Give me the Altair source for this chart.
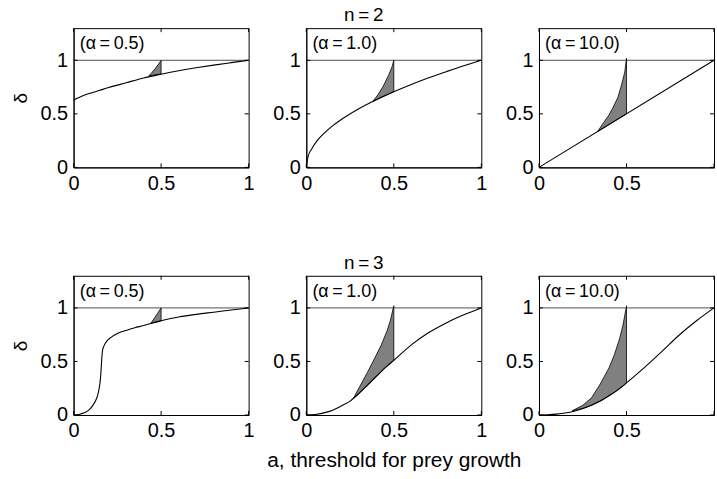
import altair as alt
import pandas as pd

FONT = "Liberation Sans"
W, H = 176, 140

ROW_TITLES = ["n\u2009=\u20092", "n\u2009=\u20093"]
ALPHA_LABELS = ["(\u03b1\u2009=\u20090.5)", "(\u03b1\u2009=\u20091.0)", "(\u03b1\u2009=\u200910.0)"]
X_TITLE = "a, threshold for prey growth"
Y_TITLE = "\u03b4"
X_TICKS = [0, 0.5, 1]
Y_TICKS = [0, 0.5, 1]

# n = 2, alpha = 0.5
A_21 = [0, 0.02, 0.05, 0.1, 0.15, 0.2, 0.3, 0.4, 0.5, 0.6, 0.7, 0.8, 0.9, 1.0]
D_21 = [0.625, 0.645, 0.667, 0.695, 0.72, 0.745, 0.79, 0.835, 0.87, 0.902, 0.93, 0.955, 0.978, 1.0]
SA_21 = [0.43, 0.45, 0.47, 0.49, 0.5]
SLO_21 = [0.855, 0.86, 0.865, 0.869, 0.87]
SHI_21 = [0.855, 0.89, 0.93, 0.975, 1.0]

# n = 2, alpha = 1.0
A_22 = [0, 0.01, 0.03, 0.06, 0.1, 0.15, 0.2, 0.3, 0.4, 0.5, 0.6, 0.7, 0.8, 0.9, 1.0]
D_22 = [0, 0.1, 0.17, 0.245, 0.316, 0.387, 0.447, 0.548, 0.632, 0.707, 0.775, 0.837, 0.894, 0.949, 1.0]
SA_22 = [0.38, 0.41, 0.44, 0.47, 0.49, 0.5]
SLO_22 = [0.616, 0.64, 0.663, 0.686, 0.7, 0.707]
SHI_22 = [0.616, 0.68, 0.76, 0.86, 0.94, 1.0]

# n = 2, alpha = 10.0
A_23 = [0, 1.0]
D_23 = [0, 1.0]
SA_23 = [0.335, 0.37, 0.4, 0.42, 0.45, 0.47, 0.49, 0.5]
SLO_23 = [0.335, 0.37, 0.4, 0.42, 0.45, 0.47, 0.49, 0.5]
SHI_23 = [0.335, 0.42, 0.49, 0.55, 0.65, 0.76, 0.89, 1.02]

# n = 3, alpha = 0.5
A_31 = [0, 0.03, 0.06, 0.09, 0.11, 0.13, 0.14, 0.15, 0.155, 0.16, 0.165, 0.175, 0.19, 0.21,
        0.25, 0.3, 0.35, 0.4, 0.45, 0.5, 0.6, 0.7, 0.8, 0.9, 1.0]
D_31 = [0, 0.005, 0.02, 0.05, 0.09, 0.15, 0.2, 0.29, 0.37, 0.5, 0.6, 0.65, 0.69, 0.72,
        0.76, 0.79, 0.815, 0.835, 0.86, 0.88, 0.915, 0.94, 0.96, 0.98, 1.0]
SA_31 = [0.44, 0.46, 0.48, 0.5]
SLO_31 = [0.855, 0.862, 0.87, 0.88]
SHI_31 = [0.855, 0.9, 0.95, 1.0]

# n = 3, alpha = 1.0
A_32 = [0, 0.05, 0.1, 0.15, 0.2, 0.25, 0.3, 0.35, 0.4, 0.45, 0.5, 0.6, 0.7, 0.8, 0.9, 1.0]
D_32 = [0, 0.005, 0.02, 0.045, 0.085, 0.13, 0.2, 0.28, 0.36, 0.44, 0.51, 0.655, 0.77, 0.86, 0.935, 1.0]
SA_32 = [0.27, 0.3, 0.35, 0.4, 0.43, 0.46, 0.48, 0.5]
SLO_32 = [0.157, 0.2, 0.28, 0.36, 0.41, 0.455, 0.485, 0.51]
SHI_32 = [0.157, 0.25, 0.4, 0.56, 0.66, 0.78, 0.88, 1.02]

# n = 3, alpha = 10.0
A_33 = [0, 0.05, 0.1, 0.15, 0.2, 0.25, 0.3, 0.35, 0.4, 0.45, 0.5, 0.6, 0.7, 0.8, 0.9, 1.0]
D_33 = [0, 0.002, 0.008, 0.018, 0.035, 0.06, 0.092, 0.13, 0.18, 0.235, 0.3, 0.44, 0.59, 0.745, 0.88, 1.0]
SA_33 = [0.19, 0.25, 0.3, 0.35, 0.4, 0.43, 0.46, 0.48, 0.5]
SLO_33 = [0.04, 0.06, 0.092, 0.13, 0.18, 0.21, 0.245, 0.27, 0.3]
SHI_33 = [0.04, 0.09, 0.16, 0.29, 0.44, 0.56, 0.71, 0.84, 1.02]

PANELS = [
    [(A_21, D_21, SA_21, SLO_21, SHI_21), (A_22, D_22, SA_22, SLO_22, SHI_22), (A_23, D_23, SA_23, SLO_23, SHI_23)],
    [(A_31, D_31, SA_31, SLO_31, SHI_31), (A_32, D_32, SA_32, SLO_32, SHI_32), (A_33, D_33, SA_33, SLO_33, SHI_33)],
]


def panel(row, col):
    a, d, sa, slo, shi = PANELS[row][col]
    curve = pd.DataFrame({"a": a, "delta": d})
    shade = pd.DataFrame({"a": sa, "delta": shi, "lo": slo})
    note = pd.DataFrame({"label": [ALPHA_LABELS[col]]})
    xt = pd.DataFrame({"a": X_TICKS})
    yt = pd.DataFrame({"delta": Y_TICKS})

    x_axis = dict(values=X_TICKS, format="~g", labelFlush=False)
    x_axis["title"] = X_TITLE if (row == 1 and col == 1) else None
    if col == 2:
        x_axis["labelExpr"] = "datum.value == 1 ? '' : datum.label"
    y_axis = dict(values=Y_TICKS, format="~g", title=Y_TITLE if col == 0 else None)

    xs = alt.Scale(domain=[0, 1], nice=False, zero=False)
    ys = alt.Scale(domain=[0, 1.3], nice=False, zero=False)

    area = alt.Chart(shade).mark_area(color="#808080", stroke="black", strokeWidth=0.8).encode(
        x=alt.X("a:Q", scale=xs, axis=alt.Axis(**x_axis)),
        y=alt.Y("delta:Q", scale=ys, axis=alt.Axis(**y_axis)),
        y2="lo:Q",
    )
    line = alt.Chart(curve).mark_line(color="black", strokeWidth=1.1, interpolate="monotone").encode(
        x="a:Q", y="delta:Q"
    )
    one = alt.Chart(note).mark_rule(color="#222222", strokeWidth=0.8).encode(y=alt.datum(1))
    label = alt.Chart(note).mark_text(
        align="left", baseline="middle", font=FONT, fontSize=18, color="black"
    ).encode(x=alt.datum(0.035), y=alt.datum(1.15), text="label:N")

    tb = alt.Chart(xt).mark_rule(color="black").encode(x="a:Q", y=alt.value(H), y2=alt.value(H - 4))
    tt = alt.Chart(xt).mark_rule(color="black").encode(x="a:Q", y=alt.value(0), y2=alt.value(4))
    tl = alt.Chart(yt).mark_rule(color="black").encode(y="delta:Q", x=alt.value(0), x2=alt.value(4))
    tr = alt.Chart(yt).mark_rule(color="black").encode(y="delta:Q", x=alt.value(W), x2=alt.value(W - 4))

    return alt.layer(area, line, one, label, tb, tt, tl, tr).properties(width=W, height=H)


rows = []
for r in range(2):
    rows.append(
        alt.hconcat(
            *[panel(r, c) for c in range(3)],
            spacing=58,
            bounds="flush",
            title=alt.TitleParams(ROW_TITLES[r], anchor="middle", offset=2),
        )
    )

chart = (
    alt.vconcat(*rows, spacing=60)
    .properties(padding={"left": 10, "top": 5, "right": 0, "bottom": 0}, background="white")
    .configure_view(stroke="black", strokeWidth=1)
    .configure_axis(
        domain=True, domainColor="black", domainWidth=1, ticks=False, grid=False,
        labelFont=FONT, labelFontSize=20, labelColor="black", labelPadding=6,
        titleFont=FONT, titleFontSize=19, titleFontWeight="normal", titleColor="black",
    )
    .configure_axisY(titlePadding=10)
    .configure_axisX(titlePadding=9, titleFontSize=21)
    .configure_title(font=FONT, fontSize=19, fontWeight="normal", color="black")
)

chart.save("out.html", embed_options={"renderer": "svg", "actions": False})
